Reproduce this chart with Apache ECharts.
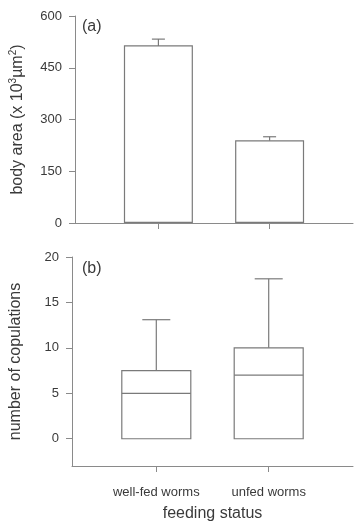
<!DOCTYPE html>
<html>
<head>
<meta charset="utf-8">
<script src="https://cdn.jsdelivr.net/npm/echarts@6/dist/echarts.min.js"></script>
<style>html,body{margin:0;padding:0;background:#fff}#c{width:357px;height:523px}</style>
</head>
<body>
<div id="c"></div>
<script>
// ---- data ----
var categories = ['well-fed worms', 'unfed worms'];
var areaMean = [515, 240];
var areaLow = [499, 229];
var areaHigh = [533, 250];
// boxplot: [min, q1, median, q3, max]
var copMin = [0, 0];
var copQ1 = [0, 0];
var copMedian = [5, 7];
var copQ3 = [7.5, 10];
var copMax = [13.1, 17.6];
var areaTicks = [0, 150, 300, 450, 600];
var copTicks = [0, 5, 10, 15, 20];

var FONT = 'Liberation Sans';
var TXT = '#3a3a3a';
var AX = '#8a8a8a';
var MARK = '#7a7a7a';
var xs = categories.map(function (c, i) { return i; });

var chart = echarts.init(document.getElementById('c'), null, {renderer: 'canvas'});

function xAxisBase(gi, showLabels) {
  return {
    type: 'value', gridIndex: gi, min: -0.75, max: 1.75,
    splitLine: {show: false},
    axisLine: {show: true, onZero: false, lineStyle: {color: AX, width: 1}},
    axisTick: {show: true, length: 6, lineStyle: {color: AX}, customValues: xs},
    axisLabel: {show: showLabels, customValues: xs, margin: 20, fontFamily: FONT, fontSize: 13, color: TXT,
      formatter: function (v) { return categories[Math.round(v)] || ''; }}
  };
}

var option = {
  animation: false,
  backgroundColor: '#fff',
  grid: [
    {left: 68, top: 16, width: 285, height: 207},
    {left: 68, top: 257, width: 285, height: 209}
  ],
  xAxis: [
    xAxisBase(0, false),
    Object.assign(xAxisBase(1, true), {
      name: 'feeding status', nameLocation: 'middle', nameGap: 40,
      nameTextStyle: {fontFamily: FONT, fontSize: 16, color: TXT}
    })
  ],
  yAxis: [
    {
      type: 'value', gridIndex: 0, min: 0, max: 600, interval: 150,
      splitLine: {show: false},
      axisLine: {show: true, onZero: false, lineStyle: {color: AX}},
      axisTick: {show: true, length: 6, lineStyle: {color: AX}},
      axisLabel: {margin: 13, fontFamily: FONT, fontSize: 13, color: TXT},
      name: 'body area (x 10{sup|3}µm{sup|2})', nameLocation: 'middle', nameGap: 48,
      nameTextStyle: {fontFamily: FONT, fontSize: 16, color: TXT,
        rich: {sup: {fontFamily: FONT, fontSize: 10, color: TXT, padding: [0, 0, 9, 0]}}}
    },
    {
      type: 'value', gridIndex: 1, min: -3, max: 20,
      splitLine: {show: false},
      axisLine: {show: true, onZero: false, lineStyle: {color: AX}},
      axisTick: {show: true, length: 6, lineStyle: {color: AX}, customValues: copTicks},
      axisLabel: {margin: 13, fontFamily: FONT, fontSize: 13, color: TXT, customValues: copTicks},
      name: 'number of copulations', nameLocation: 'middle', nameGap: 48,
      nameTextStyle: {fontFamily: FONT, fontSize: 16, color: TXT}
    }
  ],
  graphic: [
    {type: 'text', left: 82, top: 19, style: {text: '(a)', font: '16px "Liberation Sans"', fill: TXT}},
    {type: 'text', left: 82, top: 261, style: {text: '(b)', font: '16px "Liberation Sans"', fill: TXT}}
  ],
  series: [
    {
      type: 'bar', xAxisIndex: 0, yAxisIndex: 0, barWidth: 69,
      data: xs.map(function (x, i) { return [x, areaMean[i]]; }),
      itemStyle: {color: '#fff', borderColor: MARK, borderWidth: 1.2}
    },
    {
      type: 'custom', xAxisIndex: 0, yAxisIndex: 0,
      data: xs.map(function (x, i) { return [x, areaLow[i], areaHigh[i]]; }),
      renderItem: function (params, api) {
        var x = api.value(0);
        var lo = api.coord([x, api.value(1)]);
        var hi = api.coord([x, api.value(2)]);
        var hw = 6.5;
        var st = {stroke: MARK, lineWidth: 1.2};
        return {type: 'group', children: [
          {type: 'line', shape: {x1: lo[0], y1: lo[1], x2: hi[0], y2: hi[1]}, style: st},
          {type: 'line', shape: {x1: lo[0] - hw, y1: lo[1], x2: lo[0] + hw, y2: lo[1]}, style: st},
          {type: 'line', shape: {x1: hi[0] - hw, y1: hi[1], x2: hi[0] + hw, y2: hi[1]}, style: st}
        ]};
      }
    },
    {
      type: 'custom', xAxisIndex: 1, yAxisIndex: 1,
      data: xs.map(function (x, i) { return [x, copMin[i], copQ1[i], copMedian[i], copQ3[i], copMax[i]]; }),
      renderItem: function (params, api) {
        var x = api.value(0);
        var pMin = api.coord([x, api.value(1)]);
        var pQ1 = api.coord([x, api.value(2)]);
        var pMed = api.coord([x, api.value(3)]);
        var pQ3 = api.coord([x, api.value(4)]);
        var pMax = api.coord([x, api.value(5)]);
        var bw = 69 / 2, cw = 14;
        var cx = pQ1[0];
        var st = {stroke: MARK, lineWidth: 1.2, fill: null};
        var ch = [
          {type: 'rect', shape: {x: cx - bw, y: pQ3[1], width: 2 * bw, height: pQ1[1] - pQ3[1]}, style: {stroke: MARK, lineWidth: 1.2, fill: '#fff'}},
          {type: 'line', shape: {x1: cx - bw, y1: pMed[1], x2: cx + bw, y2: pMed[1]}, style: st},
          {type: 'line', shape: {x1: cx, y1: pQ3[1], x2: cx, y2: pMax[1]}, style: st},
          {type: 'line', shape: {x1: cx - cw, y1: pMax[1], x2: cx + cw, y2: pMax[1]}, style: st}
        ];
        if (pMin[1] - pQ1[1] > 0.5) {
          ch.push({type: 'line', shape: {x1: cx, y1: pQ1[1], x2: cx, y2: pMin[1]}, style: st});
          ch.push({type: 'line', shape: {x1: cx - cw, y1: pMin[1], x2: cx + cw, y2: pMin[1]}, style: st});
        }
        return {type: 'group', children: ch};
      }
    }
  ]
};
chart.setOption(option);
</script>
</body>
</html>
